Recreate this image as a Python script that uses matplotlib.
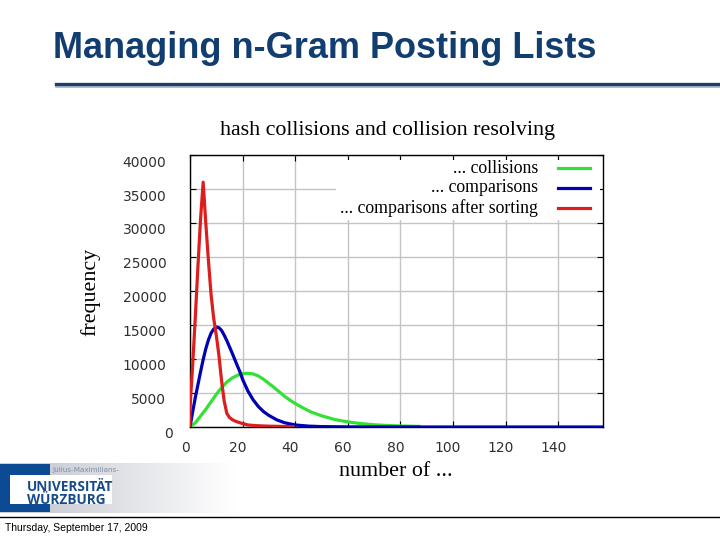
import matplotlib
matplotlib.use("Agg")
import matplotlib.pyplot as plt
import numpy as np
from matplotlib.lines import Line2D
from matplotlib.patches import Rectangle
from matplotlib.transforms import ScaledTranslation

# ---- data ----
red_x = [0, 0, 1, 2, 3, 4, 5, 6, 7, 8, 9, 10, 11, 12, 13, 14, 15, 16, 17, 18,
         20, 22, 25, 30, 35, 39]
red_y = [0, 2800, 9000, 16000, 23500, 30500, 36000, 30000, 24500, 19500, 16000,
         13500, 10500, 6800, 3800, 2000, 1400, 1100, 900, 750, 500, 300, 200,
         120, 80, 50]

blue_x = [0, 1, 2, 3, 4, 5, 6, 7, 8, 9, 10, 11, 12, 13, 14, 15, 16, 17, 18, 19,
          20, 22, 24, 26, 28, 30, 33, 36, 40, 45, 50, 60, 80, 100, 157]
blue_y = [0, 2200, 4300, 6200, 8100, 9900, 11500, 12800, 13800, 14400, 14700,
          14600, 14200, 13500, 12700, 11800, 10900, 9950, 9000, 8100, 7000,
          5300, 4000, 3000, 2250, 1700, 1050, 620, 300, 130, 60, 20, 5, 0, 0]

green_x = [0, 2, 4, 6, 8, 10, 12, 14, 16, 18, 20, 22, 24, 26, 28, 30, 32, 34,
           36, 38, 40, 43, 46, 50, 55, 60, 65, 70, 75, 80, 87]
green_y = [0, 600, 1600, 2600, 3700, 4800, 5800, 6600, 7200, 7600, 7850, 7900,
           7800, 7500, 7000, 6400, 5800, 5150, 4500, 3950, 3450, 2800, 2200,
           1650, 1100, 750, 500, 330, 220, 150, 90]

series_labels = ["... collisions", "... comparisons", "... comparisons after sorting"]
series_colors = ["#35e035", "#0000b4", "#dc1e1e"]

x_ticks = [0, 20, 40, 60, 80, 100, 120, 140]
y_ticks = [0, 5000, 10000, 15000, 20000, 25000, 30000, 35000, 40000]

W, H = 720, 540
fig = plt.figure(figsize=(7.2, 5.4), dpi=100)
fig.patch.set_facecolor("white")


def fx(px):
    return px / W


def fy(py):
    return 1 - py / H


# ---- slide header ----
fig.text(fx(53), fy(48), "Managing n-Gram Posting Lists", fontsize=26,
         fontweight="bold", color="#123d70", va="center", ha="left",
         family="Liberation Sans")
fig.add_artist(Line2D([fx(56), 1], [fy(86.5)] * 2, color="#a7b0bf", lw=1.2))
fig.add_artist(Line2D([fx(56), 1], [fy(84)] * 2, color="#1d3f6e", lw=2.4))

# ---- chart ----
ax = fig.add_axes([fx(190), fy(427), fx(603 - 190), (427 - 155) / H])
ax.plot(green_x, green_y, color=series_colors[0], lw=2.3, zorder=3)
ax.plot(blue_x, blue_y, color=series_colors[1], lw=2.3, zorder=3)
ax.plot(red_x, red_y, color=series_colors[2], lw=2.3, zorder=3)

ax.set_xlim(0, 157)
ax.set_ylim(0, 40000)
ax.set_xticks(x_ticks)
ax.set_yticks(y_ticks)
ax.set_xticklabels([str(v) for v in x_ticks])
ax.set_yticklabels([str(v) for v in y_ticks])
ax.grid(True, color="#c4c4c4", lw=1)
ax.tick_params(direction="in", length=4, width=0.8, top=True, right=True,
               labelsize=10, labelcolor="#303030")
ax.tick_params(axis="y", pad=17)
ax.tick_params(axis="x", pad=10)
for s in ax.spines.values():
    s.set_color("black")
    s.set_linewidth(1)

for lab in ax.get_xticklabels():
    lab.set_transform(lab.get_transform() + ScaledTranslation(-0.05, 0, fig.dpi_scale_trans))
for i, lab in enumerate(ax.get_yticklabels()):
    dx = 0.06 if i == 0 else 0
    lab.set_transform(lab.get_transform() + ScaledTranslation(dx, -0.06, fig.dpi_scale_trans))

# legend in gnuplot style: text right aligned, sample to the right
ax.add_patch(Rectangle((0.354, 0.761), 0.639, 0.221, transform=ax.transAxes,
                       facecolor="white", edgecolor="none", zorder=2))
leg_rows = [0.952, 0.879, 0.805]
for lab, col, yy in zip(series_labels, series_colors, leg_rows):
    ax.text(0.8426, yy, lab, transform=ax.transAxes, ha="right", va="center",
            fontsize=12.8, family="Liberation Serif", zorder=4)
    ax.plot([0.891, 0.969], [yy, yy], transform=ax.transAxes, color=col,
            lw=2.3, zorder=4, clip_on=False)

fig.text(fx(387), fy(131), "hash collisions and collision resolving",
         fontsize=15.8, family="Liberation Serif", ha="center", va="center")
fig.text(fx(396), fy(472), "number of ...", fontsize=15.8,
         family="Liberation Serif", ha="center", va="center")
fig.text(fx(90), fy(292), "frequency", fontsize=15.8, rotation=90,
         family="Liberation Serif", ha="center", va="center")

# ---- university logo ----
lg = fig.add_axes([0, fy(513), fx(240), (513 - 463) / H])
lg.set_xlim(0, 240)
lg.set_ylim(513, 463)
lg.axis("off")
grad = np.linspace(0, 1, 256)[None, :]
grad = np.clip((grad * 240 - 50) / 185, 0, 1)
rgb = np.dstack([0.80 + 0.20 * grad, 0.81 + 0.19 * grad, 0.84 + 0.16 * grad])
lg.imshow(rgb, extent=(0, 240, 513, 463), aspect="auto")
lg.add_patch(Rectangle((0, 464), 50, 48, facecolor="#0d4a94", edgecolor="none"))
lg.add_patch(Rectangle((10, 475), 102, 29, facecolor="white", edgecolor="none"))
lg.text(52, 470, "Julius-Maximilians-", fontsize=5.2, color="#7f8fa8",
        va="center", ha="left")
lg.text(27, 487, "UNIVERSITÄT", fontsize=9.8, fontweight="bold",
        color="#174a8c", va="center", ha="left", family="Open Sans")
lg.text(27, 499.5, "WÜRZBURG", fontsize=9.8, fontweight="bold",
        color="#174a8c", va="center", ha="left", family="Open Sans")

# ---- footer ----
fig.add_artist(Line2D([0, 1], [fy(517)] * 2, color="black", lw=1))
fig.text(fx(5), fy(528), "Thursday, September 17, 2009", fontsize=7.5,
         family="Liberation Sans", va="center", ha="left")

fig.savefig("out.png", dpi=100)
